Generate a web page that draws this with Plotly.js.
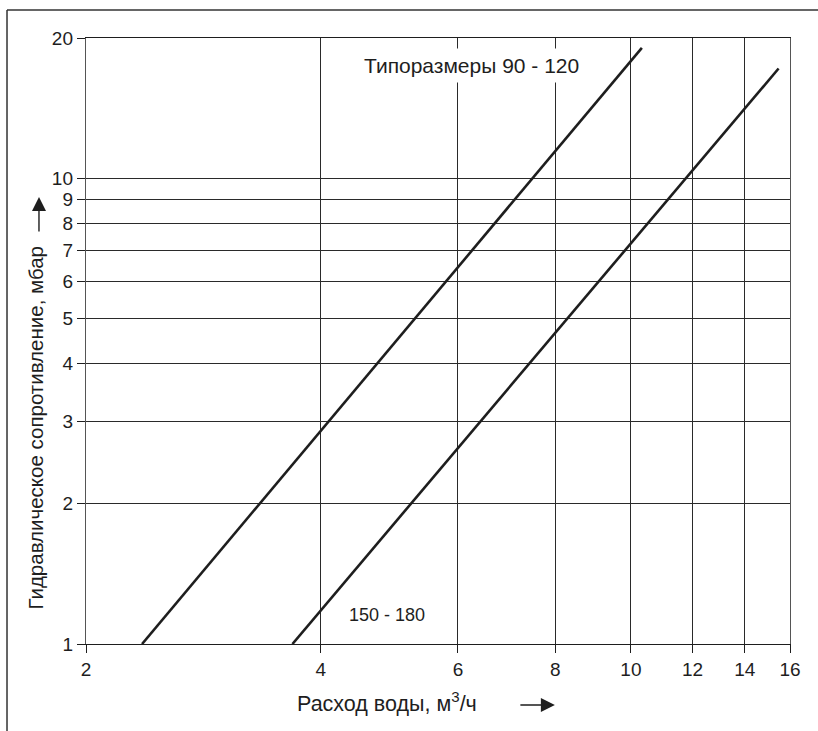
<!DOCTYPE html>
<html>
<head>
<meta charset="utf-8">
<script src="https://cdn.plot.ly/plotly-3.0.1.min.js"></script>
<style>
html,body{margin:0;padding:0;background:#fff;}
#chart{width:818px;height:731px;}
</style>
</head>
<body>
<div id="chart"></div>
<script>
// Data (water flow, m3/h vs hydraulic resistance, mbar)
const flowSize90_120 = [2.36, 10.33];
const resistSize90_120 = [1, 19.05];
const flowSize150_180 = [3.68, 15.47];
const resistSize150_180 = [1, 17.2];

const xTickVals = [2, 4, 6, 8, 10, 12, 14, 16];
const xTickText = ['2', '4', '6', '8', '10', '12', '14', '16'];
const yTickVals = [1, 2, 3, 4, 5, 6, 7, 8, 9, 10, 20];
const yTickText = ['1', '2', '3', '4', '5', '6', '7', '8', '9', '10', '20'];

const labelTop = 'Типоразмеры 90 - 120';
const labelBottom = '150 - 180';
const xTitle = 'Расход воды, м<sup>3</sup>/ч';
const yTitle = 'Гидравлическое сопротивление, мбар';

const ink = '#1e1e1e';
const font = 'Liberation Sans, Arial, sans-serif';

const traces = [
  {x: flowSize90_120, y: resistSize90_120, mode: 'lines', line: {color: ink, width: 2.6}, hoverinfo: 'skip'},
  {x: flowSize150_180, y: resistSize150_180, mode: 'lines', line: {color: ink, width: 2.6}, hoverinfo: 'skip'}
];

const layout = {
  width: 818, height: 731,
  margin: {l: 86, r: 28, t: 38, b: 87},
  paper_bgcolor: '#fff', plot_bgcolor: '#fff',
  showlegend: false,
  font: {family: font, size: 20, color: ink},
  xaxis: {
    type: 'log', range: [Math.log10(2), Math.log10(16)],
    tickvals: xTickVals, ticktext: xTickText,
    ticks: 'outside', ticklen: 8, tickwidth: 1, tickcolor: ink,
    showgrid: true, gridcolor: '#2a2a2a', gridwidth: 1,
    showline: true, linecolor: ink, linewidth: 1.2, mirror: true,
    zeroline: false, tickfont: {size: 19, color: ink}
  },
  yaxis: {
    type: 'log', range: [0, Math.log10(20)],
    tickvals: yTickVals, ticktext: yTickText,
    ticks: 'outside', ticklen: 8, tickwidth: 1, tickcolor: ink,
    showgrid: true, gridcolor: '#2a2a2a', gridwidth: 1,
    showline: true, linecolor: '#555', linewidth: 1.2, mirror: true,
    zeroline: false, tickfont: {size: 19, color: ink}
  },
  shapes: [
    {type: 'line', xref: 'paper', yref: 'paper', x0: -0.1122, x1: 1.05, y0: 1.0462, y1: 1.0462, line: {color: '#333', width: 1.5}},
    {type: 'line', xref: 'paper', yref: 'paper', x0: -0.1122, x1: -0.1122, y0: 1.0462, y1: -0.16, line: {color: '#333', width: 1.5}}
  ],
  annotations: [
    {x: Math.log10(6.25), y: Math.log10(17.47), xref: 'x', yref: 'y', text: labelTop, showarrow: false,
     xanchor: 'center', yanchor: 'middle', bgcolor: '#fff', borderpad: 5, font: {size: 21, color: ink}},
    {x: Math.log10(4.87), y: Math.log10(1.154), xref: 'x', yref: 'y', text: labelBottom, showarrow: false,
     xanchor: 'center', yanchor: 'middle', font: {size: 18, color: ink}},
    {x: 0.4276, y: -0.0957, xref: 'paper', yref: 'paper', text: xTitle, showarrow: false,
     xanchor: 'center', yanchor: 'middle', font: {size: 21.5, color: ink}},
    {x: 0.666, y: -0.1007, xref: 'paper', yref: 'paper', text: '', showarrow: true,
     ax: -36, ay: 0, arrowhead: 2, arrowsize: 2, arrowwidth: 1.4, arrowcolor: ink},
    {x: -0.0724, y: 0.3573, xref: 'paper', yref: 'paper', text: yTitle, showarrow: false, textangle: -90,
     xanchor: 'center', yanchor: 'middle', font: {size: 20.5, color: ink}},
    {x: -0.0668, y: 0.7376, xref: 'paper', yref: 'paper', text: '', showarrow: true,
     ax: 0, ay: 36, arrowhead: 2, arrowsize: 2, arrowwidth: 1.4, arrowcolor: ink}
  ]
};

Plotly.newPlot('chart', traces, layout, {displayModeBar: false, staticPlot: true});
</script>
</body>
</html>
